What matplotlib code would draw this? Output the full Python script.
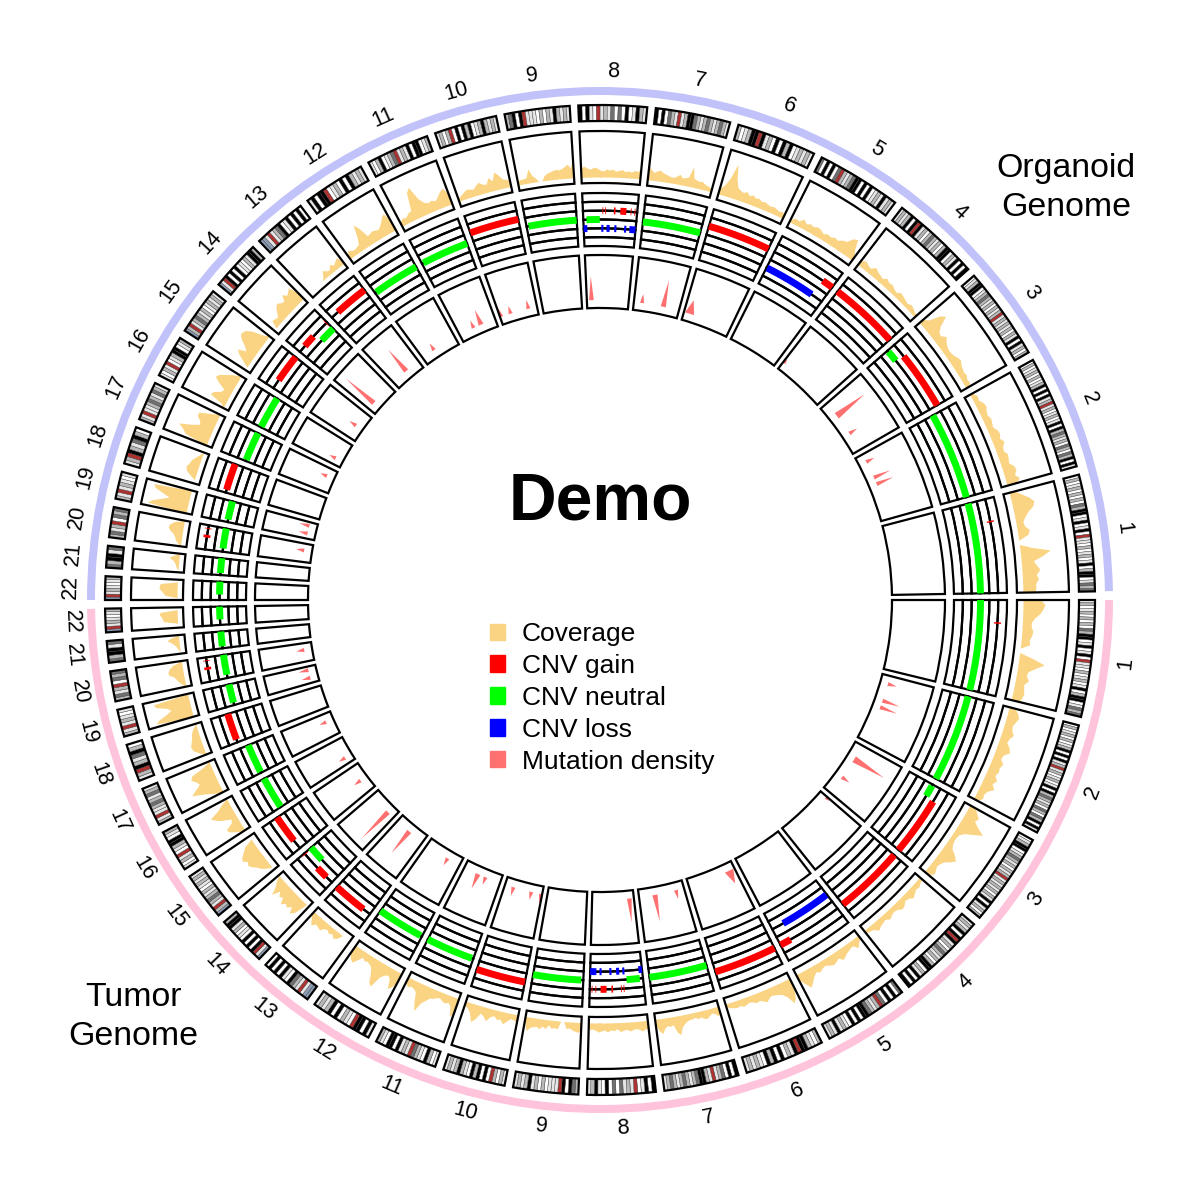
import numpy as np
import matplotlib
matplotlib.use('Agg')
import matplotlib.pyplot as plt
from matplotlib.patches import Patch

plt.rcParams['font.family'] = ['Liberation Sans', 'DejaVu Sans']

chrom_names = [str(i) for i in range(1, 23)]
chrom_sizes = [248, 242, 198, 190, 181, 170, 159, 145, 138, 133, 135,
               133, 114, 107, 102, 90, 83, 80, 58, 64, 46, 50]

# all lists run from the start of the chromosome, clockwise round the circle
organoid_coverage = [
    [6, 12, 18, 22, 20, 14, 10, 7, 8, 12, 10, 0, 0, 12, 30, 22, 12, 15, 18, 14, 16, 13, 13, 12],
    [3, 6, 5, 8, 9, 7, 6, 8, 7, 6, 9, 10, 8, 11, 8, 7, 10, 9, 8, 12, 13, 10, 14, 8],
    [5, 9, 20, 24, 14, 9, 8, 12, 9, 7, 6, 6, 7, 9, 10, 8, 7, 6, 7, 5, 6, 3],
    [5, 8, 6, 5, 9, 7, 6, 5, 8, 6, 7, 5, 4, 7, 6, 5, 4, 6, 5, 3, 4],
    [3, 6, 5, 9, 6, 8, 7, 9, 8, 6, 8, 7, 9, 8, 11, 12, 18, 20, 9, 4],
    [6, 10, 18, 34, 20, 12, 10, 9, 11, 8, 10, 8, 9, 7, 8, 7, 6, 7, 6, 5, 6, 3],
    [14, 10, 8, 10, 11, 9, 8, 7, 6, 6, 8, 10, 7, 8, 9, 20, 9, 8, 7, 8, 6, 5, 4, 3],
    [10, 11, 9, 8, 10, 9, 7, 6, 8, 7, 8, 6, 7, 8, 6, 7, 6, 8, 7, 12],
    [4, 5, 5, 6, 14, 7, 4, 0, 0, 5, 7, 8, 9, 10, 9, 10, 12, 14, 10, 23],
    [3, 5, 7, 9, 8, 7, 10, 12, 9, 8, 14, 10, 18, 14, 9, 8, 6],
    [4, 7, 6, 9, 10, 28, 32, 18, 12, 10, 11, 9, 12, 16, 18, 10],
    [4, 8, 6, 5, 6, 7, 14, 26, 20, 9, 10, 11, 10, 9, 11, 14, 18, 20, 10],
    [0, 0, 0, 0, 0, 0, 0, 3, 8, 5, 4, 8, 5, 7, 9, 4],
    [0, 0, 8, 7, 6, 10, 14, 16, 13, 12, 18, 14, 16, 18, 8],
    [0, 0, 7, 14, 18, 10, 14, 20, 24, 24, 22, 16, 6, 0],
    [0, 4, 18, 16, 10, 8, 16, 22, 20, 14, 8, 0],
    [0, 24, 28, 34, 22, 14, 16, 20, 20, 10, 0],
    [0, 0, 6, 11, 12, 10, 9, 6, 3, 0],
    [0, 40, 36, 28, 20, 28, 36, 38, 0],
    [0, 3, 6, 7, 9, 13, 15, 14, 10, 0],
    [0, 0, 2, 3, 4, 6, 10, 6, 0],
    [0, 0, 12, 14, 16, 18, 18, 17, 0, 0],
]
tumor_coverage = [
    [18, 22, 20, 17, 12, 9, 9, 11, 10, 8, 9, 0, 0, 14, 26, 18, 11, 10, 13, 9, 10, 11, 10, 8],
    [6, 10, 12, 10, 8, 9, 12, 9, 8, 12, 14, 9, 8, 12, 10, 11, 9, 13, 10, 14, 9, 7, 8, 4],
    [6, 10, 14, 12, 18, 26, 18, 10, 6, 5, 5, 6, 8, 14, 18, 14, 9, 7, 6, 8, 9, 4],
    [3, 4, 6, 5, 7, 9, 6, 5, 8, 9, 6, 5, 6, 8, 5, 6, 7, 9, 5, 4, 3],
    [3, 6, 10, 5, 6, 7, 9, 11, 7, 9, 10, 8, 6, 7, 9, 7, 10, 14, 18, 12, 5],
    [8, 20, 24, 16, 12, 10, 9, 8, 9, 12, 10, 8, 9, 7, 6, 7, 8, 6, 7, 6, 5, 3],
    [8, 9, 6, 5, 7, 9, 8, 6, 7, 5, 6, 6, 7, 9, 12, 19, 16, 8, 9, 8, 10, 15, 12, 6],
    [9, 8, 10, 8, 7, 8, 9, 7, 8, 9, 6, 8, 7, 9, 7, 8, 9, 7, 6, 7],
    [6, 10, 9, 8, 6, 7, 0, 0, 8, 7, 8, 5, 9, 7, 10, 8, 9, 10, 14, 6],
    [8, 6, 5, 8, 12, 8, 9, 6, 8, 13, 9, 7, 14, 18, 10, 6, 4],
    [14, 20, 10, 7, 9, 8, 6, 7, 9, 10, 14, 18, 28, 20, 10, 8, 7, 9, 6],
    [8, 16, 20, 10, 8, 10, 14, 26, 24, 16, 10, 8, 7, 8, 6, 11, 16, 14, 10],
    [0, 0, 0, 0, 6, 8, 5, 7, 5, 6, 10, 9, 8, 12, 8, 4],
    [0, 0, 14, 18, 12, 16, 14, 18, 12, 14, 10, 18, 10, 6, 0],
    [0, 0, 6, 10, 12, 16, 18, 16, 20, 18, 14, 10, 0, 0],
    [0, 8, 14, 16, 8, 6, 14, 20, 24, 14, 8, 0],
    [0, 10, 18, 30, 24, 18, 20, 24, 22, 8, 0],
    [0, 6, 11, 12, 10, 8, 7, 4, 0],
    [0, 38, 34, 26, 20, 24, 34, 36, 0],
    [0, 3, 6, 8, 10, 15, 15, 13, 9, 0],
    [0, 0, 2, 3, 5, 8, 12, 8, 0],
    [0, 0, 0, 14, 15, 16, 18, 17, 0, 0],
]

# cnv segments, same calls in both genomes. state: -1 loss, 0 neutral, 1 gain, 2 high gain
cnv_chrom = [1, 1, 2, 3, 3, 4, 5, 5, 6, 7,
             8, 8, 8, 8, 8, 8, 8, 8, 8, 8, 8, 8, 8, 8,
             9, 10, 11, 12, 13, 14, 14, 14, 15, 16, 17, 18, 19, 20, 20, 20, 21, 22]
cnv_start = [0.0, 0.235, 0.0, 0.02, 0.2, 0.0, 0.01, 0.83, 0.0, 0.0,
             0.06, 0.36, 0.41, 0.57, 0.69, 0.88, 0.95, 0.0, 0.34, 0.44, 0.59, 0.78, 0.88, 0.89,
             0.04, 0.0, 0.03, 0.03, 0.19, 0.19, 0.58, 0.96, 0.25, 0.02, 0.04, 0.1, 0.12, 0.14, 0.49, 0.85, 0.12, 0.3]
cnv_end = [1.0, 0.25, 1.0, 0.18, 1.0, 1.0, 0.81, 1.0, 1.0, 1.0,
           0.31, 0.375, 0.425, 0.6, 0.8, 0.895, 0.965, 0.07, 0.38, 0.5, 0.63, 0.82, 0.89, 1.0,
           1.0, 1.0, 1.0, 1.0, 1.0, 0.51, 1.0, 0.98, 1.0, 1.0, 1.0, 1.0, 1.0, 1.0, 0.6, 0.88, 1.0, 1.0]
cnv_state = [0, 2, 0, 0, 1, 1, -1, 1, 1, 0,
             0, 1, 1, 1, 1, 1, 1, -1, -1, -1, -1, -1, -1, -1,
             0, 1, 0, 0, 1, 1, 0, 1, 1, 0, 0, 1, 0, 0, 2, 2, 0, 0]

mut_chrom = [2, 2, 2, 3, 3, 4, 6, 7, 7, 8, 10, 10, 10, 11, 11, 12, 13, 14, 15, 16, 17, 19, 19, 20]
mut_pos = [0.12, 0.37, 0.47, 0.28, 0.66, 0.03, 0.12, 0.18, 0.65, 0.11, 0.03, 0.29, 0.77,
           0.4, 0.61, 0.36, 0.52, 0.25, 0.46, 0.24, 0.65, 0.31, 0.78, 0.63]
mut_height = [9, 18, 18, 35, 9, 5, 14, 9, 27, 24, 9, 8, 9, 8, 16, 8, 28, 37, 8, 7, 7, 9, 10, 8]
mut_width = [0.4, 0.4, 0.4, 0.65, 0.4, 0.25, 0.9, 0.4, 0.5, 0.45, 0.4, 0.4, 0.4,
             0.4, 0.5, 0.4, 0.5, 0.5, 0.4, 0.4, 0.4, 0.4, 0.4, 0.4]

# w white, l light, g grey, d dark, k black, r centromere, b stalk
ideogram_bands = [
    'wgwlgwgwgwdgkkwlkwlkwrllwgwlgwlkwgkkwldgd',
    'wgwlgwgwlgkwkwklgrlgwlgwlkwkgdglgwdgwdgkwkl',
    'wlgkkwlgdglgwglgrlglglgwglkwklgwg',
    'lglgkwkrklgwgdglgwgkkwglkwkwk',
    'dwkwkwdrglgdkkwkwkwlglklgl',
    'gwlgkkrklgwkwkgkwlglgl',
    'kwkwdglrlgkkdglgdglgdgl',
    'kwklwrlgldwdwkwlkgl',
    'gdkwkrlllwgwglkglgl',
    'lgwgrwkwkgkwlgkglgl',
    'lwgkwlgdrlglkwkkwlg',
    'lkwkkrwlgwkwkglgl',
    'bblrlgdkwlkwkwkw',
    'blrkwkwkwlwglkkg',
    'bgrlgdglgwlglgl',
    'lwglrwlgkkwlg',
    'glrllgdgldgl',
    'lgrkgldkgw',
    'glrlglwl',
    'gdlgrwdgd',
    'dgkkld',
    'brlglwlg',
]

coverage_color = '#FAD482'
gain_color = '#FF0000'
neutral_color = '#00FF00'
loss_color = '#0000FF'
mutation_color = '#FF7070'
band_colors = {'w': '#FFFFFF', 'l': '#E6E6E6', 'g': '#B8B8B8', 'd': '#707070',
               'k': '#000000', 'r': '#B03030', 'b': '#8C9DB5'}
state_colors = {-1: loss_color, 0: neutral_color, 1: gain_color, 2: gain_color}

gap = 1.0
half_span = 179.0
scale = (half_span - gap * (len(chrom_sizes) - 1)) / sum(chrom_sizes)
spans = [s * scale for s in chrom_sizes]
sweep_start = [sum(spans[:i]) + gap * i for i in range(len(spans))]

fig = plt.figure(figsize=(12, 12), dpi=100)
ax = fig.add_axes([0, 0, 1, 1], projection='polar')


def sector_angle(half, i, frac):
    # degrees, frac runs clockwise from the chromosome start
    frac = np.asarray(frac, dtype=float)
    if half == 'top':
        return 1.0 + sweep_start[i] + spans[i] * (1 - frac)
    return 360.0 - sweep_start[i] - spans[i] * frac


def sector_bar(half, i, r0, r1, f0=0.0, f1=1.0, **kw):
    a0 = sector_angle(half, i, f0)
    a1 = sector_angle(half, i, f1)
    ax.bar(np.radians((a0 + a1) / 2), r1 - r0, width=np.radians(abs(a0 - a1)), bottom=r0, **kw)


box = dict(facecolor='none', edgecolor='black', linewidth=1.6, zorder=5)

for half, coverage in (('top', organoid_coverage), ('bottom', tumor_coverage)):
    # outer band
    if half == 'top':
        ax.bar(np.radians(90.5), 8, width=np.radians(half_span), bottom=505, color='#C2C2FA', linewidth=0)
    else:
        ax.bar(np.radians(270.5), 8, width=np.radians(half_span), bottom=505, color='#FFC4DC', linewidth=0)

    for i, name in enumerate(chrom_names):
        # chromosome label
        mid = float(sector_angle(half, i, 0.5))
        rotation = mid - 90 if half == 'top' else mid - 360 + 90
        ax.text(np.radians(mid), 529, name, fontsize=15.5, rotation=rotation, rotation_mode='anchor',
                ha='center', va='center')

        # ideogram, hairlines between the bands
        bands = ideogram_bands[i]
        for k, code in enumerate(bands):
            sector_bar(half, i, 479, 495, k / len(bands), (k + 1) / len(bands),
                       facecolor=band_colors[code], edgecolor='#404040', linewidth=0.3, zorder=2)
        sector_bar(half, i, 479, 495, **box)

        # coverage
        values = np.array(coverage[i], dtype=float)
        frac = np.linspace(0, 1, len(values))
        theta = np.radians(sector_angle(half, i, frac))
        ax.fill_between(theta, 423, 423 + values, color=coverage_color, linewidth=0, zorder=2)
        sector_bar(half, i, 417, 469, **box)

        # cnv lanes
        for lane in range(6):
            sector_bar(half, i, 354 + lane * 53 / 6, 354 + (lane + 1) * 53 / 6, **box)

        # mutation box
        sector_bar(half, i, 292, 345, **box)

    for chrom, f0, f1, state in zip(cnv_chrom, cnv_start, cnv_end, cnv_state):
        frac = np.linspace(f0, f1, 40)
        theta = np.radians(sector_angle(half, chrom - 1, frac))
        r = np.full_like(theta, 380.5 + state * 53 / 6)
        ax.plot(theta, r, color=state_colors[state], linewidth=5, solid_capstyle='butt', zorder=6)

    for chrom, pos, height, width in zip(mut_chrom, mut_pos, mut_height, mut_width):
        mid = float(sector_angle(half, chrom - 1, pos))
        theta = np.radians([mid - width, mid, mid + width])
        ax.fill(theta, [300, 300 + height, 300], color=mutation_color, linewidth=0, zorder=3)

ax.set_xlim(0, 2 * np.pi)
ax.set_ylim(0, 600)
ax.set_axis_off()

fig.text(0.5, 1 - 502 / 1200, 'Demo', fontsize=47.5, fontweight='bold', ha='center', va='center')
fig.text(1066 / 1200, 1 - 188 / 1200, 'Organoid\nGenome', fontsize=24.4, ha='center', va='center', linespacing=1.32)
fig.text(133 / 1200, 1 - 1017 / 1200, 'Tumor\nGenome', fontsize=24.4, ha='center', va='center', linespacing=1.32)

handles = [Patch(color=coverage_color), Patch(color=gain_color), Patch(color=neutral_color),
           Patch(color=loss_color), Patch(color=mutation_color)]
labels = ['Coverage', 'CNV gain', 'CNV neutral', 'CNV loss', 'Mutation density']
fig.legend(handles, labels, loc='upper left', bbox_to_anchor=(490 / 1200, 1 - 622 / 1200), frameon=False,
           fontsize=19, borderpad=0, borderaxespad=0, handlelength=0.57, handleheight=0.57,
           handletextpad=0.64, labelspacing=0.3)

fig.savefig('out.png', dpi=100)
